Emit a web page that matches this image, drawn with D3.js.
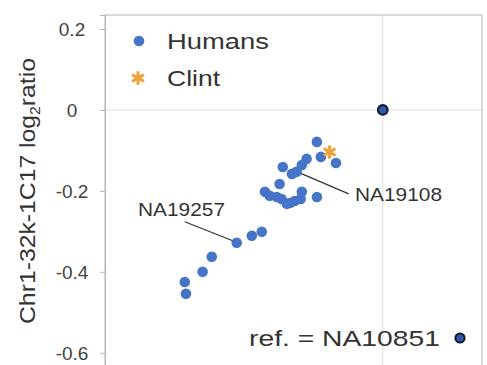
<!DOCTYPE html>
<html>
<head>
<meta charset="utf-8">
<script src="https://cdn.jsdelivr.net/npm/d3@7"></script>
<style>
  body { margin: 0; background: #fff; }
  text { font-family: "Liberation Sans", Arial, sans-serif; }
</style>
</head>
<body>
<div id="chart"></div>
<script>
// log2 ratios (x is the companion probe, y is Chr1-32k-1C17)
const humansX = [-0.166, -0.156, -0.118, -0.192, -0.204, -0.252, -0.229, -0.217, -0.260,
  -0.297, -0.285, -0.267, -0.255, -0.234, -0.222, -0.204, -0.207, -0.166, -0.242,
  -0.368, -0.330, -0.305, -0.431, -0.454, -0.499, -0.496];
const humansY = [-0.079, -0.116, -0.131, -0.121, -0.136, -0.141, -0.158, -0.153, -0.183,
  -0.202, -0.212, -0.215, -0.220, -0.230, -0.225, -0.202, -0.220, -0.215, -0.232,
  -0.328, -0.311, -0.301, -0.363, -0.400, -0.425, -0.454];
const clintX = [-0.134];
const clintY = [-0.104];
const refX = [0];
const refY = [0];
const yTicks = [0.2, 0, -0.2, -0.4, -0.6];
// labelled samples: index into humans
const callouts = [
  { name: "NA19257", i: 19 },
  { name: "NA19108", i: 7 }
];

const W = 487, H = 365;
const m = { left: 105, right: 482, top: 15, bottom: 373 };

const svg = d3.select("#chart").append("svg")
  .attr("width", W)
  .attr("height", H);

const x = d3.scaleLinear().domain([-0.7, 0.25]).range([m.left, m.right]);
const y = d3.scaleLinear().domain([-0.65, 0.2346]).range([m.bottom, m.top]);

// grid through the reference sample
svg.append("line")
  .attr("x1", m.left).attr("x2", m.right)
  .attr("y1", y(0)).attr("y2", y(0))
  .attr("stroke", "#ddd");
svg.append("line")
  .attr("x1", x(0)).attr("x2", x(0))
  .attr("y1", m.top).attr("y2", m.bottom)
  .attr("stroke", "#ddd");

// frame
svg.append("path")
  .attr("d", `M${m.left},${m.bottom}V${m.top}H${m.right}V${m.bottom}`)
  .attr("fill", "none")
  .attr("stroke", "#b5b5b5");

// y axis
const yAxis = svg.append("g")
  .attr("transform", `translate(${m.left},0)`)
  .call(d3.axisLeft(y).tickValues(yTicks).tickSize(5).tickFormat(d => d === 0 ? "0" : String(d)));
yAxis.select(".domain").attr("stroke", "#b5b5b5");
yAxis.selectAll(".tick line").attr("stroke", "#b5b5b5");
yAxis.selectAll(".tick text")
  .attr("x", -33)
  .attr("dy", "0.35em")
  .style("text-anchor", "middle")
  .style("font-size", "19px")
  .style("font-family", "'Liberation Sans', Arial, sans-serif")
  .attr("fill", "#444");

// y label
const yl = svg.append("text")
  .attr("transform", "translate(35,191) rotate(-90)")
  .attr("text-anchor", "middle")
  .attr("textLength", 266)
  .attr("lengthAdjust", "spacingAndGlyphs")
  .style("font-size", "22px")
  .attr("fill", "#333");
yl.append("tspan").text("Chr1-32k-1C17 log");
yl.append("tspan").attr("dy", 5).style("font-size", "14px").text("2");
yl.append("tspan").attr("dy", -5).text("ratio");

// callout lines and labels
const calloutLines = [
  { dx1: -52, dy1: -21, tx: 138, ty: 216 },
  { dx1: 52, dy1: 22, tx: 355, ty: 201 }
];
callouts.forEach((c, k) => {
  const px = x(humansX[c.i]), py = y(humansY[c.i]);
  const L = calloutLines[k];
  svg.append("line")
    .attr("x1", k === 0 ? px - 4 : px + 3).attr("y1", k === 0 ? py - 2 : py + 1)
    .attr("x2", px + L.dx1).attr("y2", py + L.dy1)
    .attr("stroke", "#333").attr("stroke-width", 1.2);
  svg.append("text")
    .attr("x", L.tx).attr("y", L.ty)
    .attr("textLength", 87)
    .attr("lengthAdjust", "spacingAndGlyphs")
    .style("font-size", "19px")
    .attr("fill", "#333")
    .text(c.name);
});

const blue = "#4674c6";
const orange = "#eea33a";

// humans
svg.append("g").selectAll("circle")
  .data(d3.range(humansX.length))
  .join("circle")
  .attr("cx", i => x(humansX[i]))
  .attr("cy", i => y(humansY[i]))
  .attr("r", 5.3)
  .attr("fill", blue);

// Clint
const star = d3.symbol().type(d3.symbolAsterisk).size(130);
svg.append("g").selectAll("path")
  .data(d3.range(clintX.length))
  .join("path")
  .attr("transform", i => `translate(${x(clintX[i])},${y(clintY[i])})`)
  .attr("d", star)
  .attr("fill", "none")
  .attr("stroke", orange)
  .attr("stroke-width", 3);

// reference sample
svg.append("g").selectAll("circle")
  .data(d3.range(refX.length))
  .join("circle")
  .attr("cx", i => x(refX[i]))
  .attr("cy", i => y(refY[i]))
  .attr("r", 4.8)
  .attr("fill", "#2f5aa8")
  .attr("stroke", "#0e1a30")
  .attr("stroke-width", 2.2);

// legend
svg.append("circle").attr("cx", 139).attr("cy", 41).attr("r", 5.3).attr("fill", blue);
svg.append("text").attr("x", 167).attr("y", 49)
  .attr("textLength", 102).attr("lengthAdjust", "spacingAndGlyphs")
  .style("font-size", "22px").attr("fill", "#333").text("Humans");
svg.append("path").attr("transform", "translate(138,78)").attr("d", star)
  .attr("fill", "none").attr("stroke", orange).attr("stroke-width", 3);
svg.append("text").attr("x", 167).attr("y", 86)
  .attr("textLength", 53).attr("lengthAdjust", "spacingAndGlyphs")
  .style("font-size", "22px").attr("fill", "#333").text("Clint");

svg.append("text").attr("x", 249).attr("y", 346)
  .attr("textLength", 191).attr("lengthAdjust", "spacingAndGlyphs")
  .style("font-size", "22px").attr("fill", "#333").text("ref. = NA10851");
svg.append("circle").attr("cx", 460).attr("cy", 338).attr("r", 4.6)
  .attr("fill", "#2f5aa8").attr("stroke", "#0e1a30").attr("stroke-width", 2);
</script>
</body>
</html>
